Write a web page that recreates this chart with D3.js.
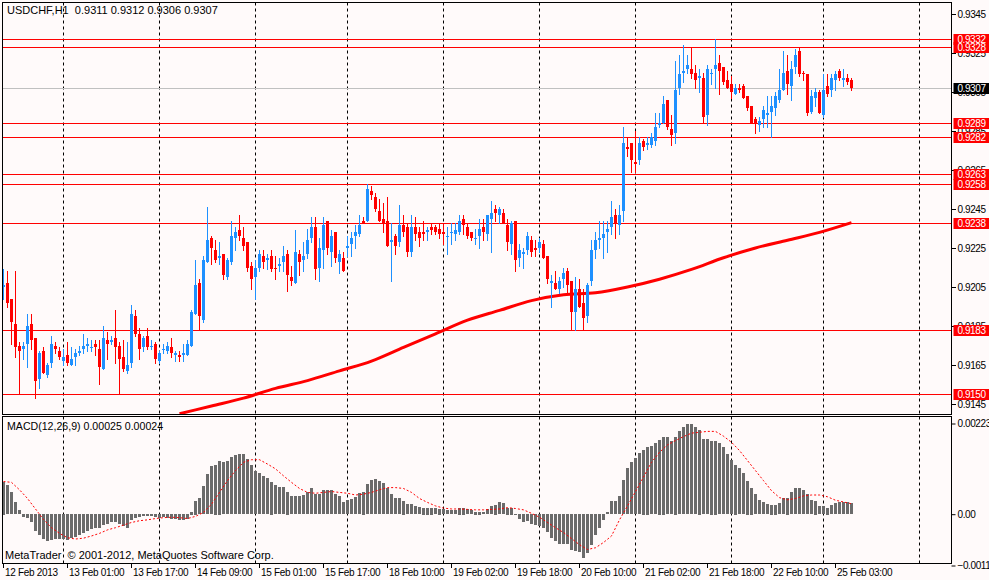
<!DOCTYPE html>
<html>
<head>
<meta charset="utf-8">
<script src="https://cdn.jsdelivr.net/npm/d3@7"></script>
<style>
body { margin: 0; background: #fffafa; }
svg { display: block; font-family: "Liberation Sans", Arial, sans-serif; font-size: 10px; }
</style>
</head>
<body>
<div id="chart"></div>
<script>
// USDCHF H1 bars, 12 Feb 09:00 .. 25 Feb 07:00 (bar index = position on the chart)
const open = [
  .9205,.9207,.9199,.9186,.9175,.9173,.9176,.9186,.9179,.9158, .9172,.9160,.9166,.9175,.9172,.9167,.9170,.9165,.9169,.9171,
  .9173,.9175,.9174,.9176,.9173,.9163,.9178,.9177,.9179,.9175, .9169,.9162,.9166,.9190,.9181,.9174,.9180,.9175,.9176,.9167,
  .9173,.9172,.9174,.9170,.9170,.9170,.9170,.9175,.9191,.9207, .9188,.9218,.9230,.9224,.9220,.9222,.9210,.9218,.9230,.9234,
  .9230,.9228,.9216,.9210,.9215,.9221,.9219,.9221,.9215,.9216, .9218,.9222,.9210,.9207,.9222,.9219,.9222,.9230,.9236,.9215,
  .9224,.9239,.9223,.9233,.9218,.9220,.9225,.9227,.9231,.9232, .9239,.9239,.9254,.9251,.9244,.9240,.9239,.9228,.9231,.9228,
  .9237,.9236,.9223,.9236,.9233,.9233,.9233,.9236,.9236,.9235, .9233,.9231,.9233,.9232,.9233,.9240,.9236,.9233,.9230,.9231,
  .9236,.9232,.9240,.9245,.9242,.9243,.9237,.9227,.9239,.9220, .9222,.9224,.9229,.9225,.9225,.9227,.9221,.9207,.9207,.9204,
  .9209,.9213,.9208,.9192,.9204,.9197,.9190,.9208,.9224,.9229, .9230,.9233,.9236,.9242,.9237,.9244,.9277,.9279,.9269,.9270,
  .9280,.9278,.9278,.9280,.9288,.9289,.9301,.9286,.9284,.9307, .9315,.9317,.9317,.9315,.9312,.9312,.9293,.9314,.9317,.9320,
  .9318,.9311,.9309,.9304,.9307,.9308,.9303,.9298,.9291,.9288, .9291,.9293,.9295,.9297,.9301,.9306,.9316,.9308,.9318,.9326,
  .9315,.9314,.9295,.9302,.9305,.9293,.9308,.9306,.9311,.9316, .9311,.9312,.9311
];
const high = [
  .9214,.9213,.9199,.9213,.9177,.9177,.9191,.9191,.9179,.9172, .9174,.9166,.9180,.9177,.9174,.9173,.9177,.9174,.9173,.9175,
  .9181,.9179,.9178,.9178,.9178,.9185,.9182,.9180,.9193,.9177, .9178,.9177,.9196,.9193,.9184,.9180,.9184,.9178,.9177,.9172,
  .9176,.9177,.9179,.9172,.9172,.9176,.9178,.9193,.9219,.9209, .9221,.9246,.9231,.9229,.9228,.9222,.9220,.9239,.9236,.9242,
  .9236,.9228,.9218,.9219,.9224,.9224,.9222,.9224,.9221,.9220, .9226,.9224,.9216,.9234,.9224,.9228,.9235,.9241,.9241,.9230,
  .9241,.9239,.9234,.9233,.9224,.9223,.9231,.9233,.9237,.9242, .9241,.9258,.9257,.9253,.9250,.9248,.9251,.9238,.9232,.9247,
  .9242,.9238,.9242,.9241,.9236,.9239,.9236,.9238,.9237,.9238, .9238,.9236,.9238,.9238,.9242,.9242,.9238,.9233,.9235,.9240,
  .9240,.9242,.9249,.9247,.9246,.9245,.9240,.9239,.9239,.9227, .9225,.9233,.9231,.9229,.9230,.9229,.9221,.9211,.9213,.9210,
  .9215,.9215,.9208,.9210,.9209,.9204,.9207,.9229,.9233,.9239, .9239,.9239,.9249,.9245,.9247,.9287,.9282,.9279,.9285,.9282,
  .9281,.9282,.9284,.9294,.9294,.9303,.9301,.9293,.9321,.9324, .9329,.9324,.9328,.9319,.9317,.9315,.9319,.9317,.9332,.9324,
  .9318,.9316,.9313,.9309,.9309,.9309,.9303,.9298,.9292,.9292, .9298,.9303,.9303,.9305,.9317,.9326,.9324,.9321,.9327,.9328,
  .9316,.9314,.9306,.9307,.9306,.9314,.9314,.9314,.9316,.9317, .9317,.9314,.9312
];
const low = [
  .9199,.9195,.9176,.9169,.9150,.9168,.9164,.9173,.9148,.9153, .9161,.9159,.9164,.9171,.9168,.9165,.9165,.9165,.9165,.9170,
  .9171,.9172,.9172,.9170,.9155,.9163,.9168,.9176,.9166,.9150, .9162,.9161,.9164,.9180,.9168,.9172,.9173,.9173,.9166,.9166,
  .9171,.9171,.9169,.9167,.9167,.9167,.9170,.9175,.9191,.9183, .9187,.9218,.9217,.9218,.9217,.9209,.9209,.9217,.9224,.9229,
  .9224,.9213,.9204,.9199,.9213,.9215,.9214,.9213,.9209,.9213, .9213,.9203,.9206,.9207,.9211,.9213,.9220,.9228,.9209,.9208,
  .9215,.9222,.9216,.9218,.9212,.9213,.9221,.9221,.9225,.9231, .9238,.9239,.9250,.9244,.9239,.9233,.9226,.9208,.9222,.9226,
  .9231,.9221,.9221,.9229,.9226,.9229,.9229,.9232,.9232,.9230, .9227,.9222,.9227,.9229,.9232,.9232,.9230,.9229,.9227,.9225,
  .9229,.9229,.9223,.9239,.9238,.9238,.9224,.9222,.9213,.9216, .9215,.9222,.9221,.9221,.9223,.9220,.9207,.9195,.9204,.9202,
  .9205,.9202,.9183,.9183,.9195,.9183,.9187,.9206,.9220,.9225, .9220,.9223,.9232,.9230,.9232,.9239,.9272,.9264,.9264,.9268,
  .9275,.9276,.9277,.9278,.9287,.9289,.9286,.9278,.9279,.9304, .9310,.9315,.9312,.9307,.9305,.9289,.9288,.9309,.9307,.9304,
  .9309,.9307,.9302,.9304,.9305,.9302,.9296,.9289,.9284,.9285, .9287,.9287,.9282,.9293,.9300,.9306,.9304,.9301,.9315,.9313,
  .9311,.9293,.9294,.9298,.9294,.9292,.9303,.9303,.9306,.9311, .9308,.9309,.9306
];
const close = [
  .9206,.9197,.9187,.9174,.9172,.9175,.9185,.9178,.9157,.9171, .9161,.9165,.9176,.9173,.9169,.9169,.9166,.9168,.9171,.9172,
  .9175,.9176,.9174,.9174,.9164,.9179,.9176,.9178,.9174,.9168, .9163,.9165,.9191,.9181,.9173,.9179,.9174,.9175,.9168,.9171,
  .9173,.9175,.9171,.9171,.9169,.9171,.9176,.9192,.9206,.9190, .9219,.9229,.9225,.9219,.9221,.9211,.9219,.9231,.9233,.9231,
  .9226,.9215,.9209,.9215,.9222,.9218,.9220,.9214,.9214,.9217, .9221,.9211,.9208,.9223,.9218,.9221,.9229,.9236,.9214,.9225,
  .9237,.9225,.9231,.9220,.9222,.9213,.9226,.9230,.9233,.9237, .9238,.9255,.9252,.9245,.9239,.9238,.9226,.9229,.9226,.9237,
  .9233,.9223,.9236,.9232,.9230,.9232,.9234,.9234,.9233,.9232, .9232,.9231,.9233,.9234,.9239,.9237,.9231,.9230,.9230,.9235,
  .9233,.9242,.9243,.9243,.9245,.9238,.9228,.9238,.9219,.9224, .9223,.9231,.9223,.9224,.9228,.9220,.9209,.9208,.9204,.9208,
  .9212,.9206,.9192,.9204,.9195,.9189,.9206,.9224,.9229,.9230, .9232,.9235,.9241,.9238,.9242,.9279,.9276,.9270,.9268,.9279,
  .9277,.9279,.9282,.9287,.9289,.9299,.9287,.9283,.9306,.9314, .9316,.9319,.9314,.9311,.9313,.9292,.9317,.9315,.9319,.9316,
  .9310,.9307,.9305,.9307,.9306,.9302,.9297,.9289,.9289,.9290, .9296,.9294,.9298,.9303,.9306,.9315,.9309,.9317,.9324,.9314,
  .9314,.9294,.9303,.9305,.9294,.9306,.9304,.9312,.9314,.9312, .9312,.9310,.9307
];

// moving average (red thick line), read every 8 bars
const maBars   = [44, 52, 60, 68, 76, 84, 92, 100, 108, 116, 124, 132, 140, 148, 156, 164, 172, 180, 188, 196, 204, 212];
const maValues = [.9140,.9144,.9148,.9153,.9157,.9162,.9167,.9174,.9181,.9188,.9193,.9198,.9201,.9202,.9205,.9209,.9214,.9220,.9225,.9229,.9233,.9238];

// MACD(12,26,9) histogram, in units of 0.00001
const macdHist = [
  75,67,50,27,9,-8,-10,-18,-40,-48, -58,-62,-59,-58,-58,-58,-60,-56,-52,-48,
  -44,-38,-35,-32,-31,-25,-22,-19,-18,-22, -28,-31,-13,-10,-8,-5,-5,-4,-8,-10,
  -8,-10,-12,-12,-13,-14,-12,6,31,36, 64,92,111,114,123,119,121,131,136,138,
  137,127,113,98,95,88,83,75,67,62, 62,52,41,42,41,44,50,59,46,46,
  56,55,55,46,41,28,32,35,39,48, 52,69,78,81,76,71,59,46,36,36,
  31,23,23,19,16,15,15,15,14,13, 12,9,9,10,15,15,11,9,6,6,
  5,11,18,22,27,25,15,15,-3,-12, -18,-16,-22,-25,-27,-31,-42,-54,-63,-68,
  -68,-69,-83,-85,-88,-100,-90,-70,-48,-31, -14,5,30,30,41,79,105,119,128,141,
  148,155,156,163,171,178,177,168,178,190, 200,206,206,200,194,173,173,169,169,163,
  154,138,125,114,105,94,77,61,46,33, 27,23,22,22,25,36,38,50,59,59,
  56,46,33,31,18,18,15,21,25,27, 28,27,25
];
// signal line (red dots), read every 2 bars, units of 0.00001
const signalBars = d3.range(0, 213, 2);
const signal = [
  75,73,56,36,12,-12,-31,-44,-54,-57, -55,-50,-44,-36,-31,-25,-19,-15,-13,-10,
  -8,-7,-8,-10,-5,4,23,50,77,100, 119,125,125,115,104,88,73,59,50,48,
  50,52,50,48,44,46,50,56,61,61, 59,50,36,27,19,14,12,12,11,10,
  10,11,12,15,13,10,2,-7,-19,-31, -42,-56,-70,-81,-77,-65,-50,-13,19,52,
  85,119,142,159,169,178,186,188,190,190, 179,165,146,123,100,77,54,38,33,36,
  42,44,44,40,32,28,24
];

const timeBars   = [0, 16, 32, 48, 64, 80, 96, 112, 128, 144, 160, 176, 192, 208];
const timeLabels = ['12 Feb 2013', '13 Feb 01:00', '13 Feb 17:00', '14 Feb 09:00', '15 Feb 01:00', '15 Feb 17:00',
  '18 Feb 10:00', '19 Feb 02:00', '19 Feb 18:00', '20 Feb 10:00', '21 Feb 02:00', '21 Feb 18:00', '22 Feb 10:00', '25 Feb 03:00'];
const dayStartBars = [15, 39, 63, 86, 110, 134, 158, 182, 205, 229];

const priceTicks = [0.9345, 0.9325, 0.9305, 0.9285, 0.9265, 0.9245, 0.9225, 0.9205, 0.9185, 0.9165, 0.9145];
const levels = [0.9332, 0.9328, 0.9289, 0.9282, 0.9263, 0.9258, 0.9238, 0.9183, 0.9150];
const bid = 0.9307;
const macdTicks = [223, 0, -112];

const width = 989, height = 580;
const frame = {left: 2.5, right: 951.5, top: 2.5, mainBottom: 414.5, subTop: 416.5, bottom: 563.5};
const bullColor = '#1e90ff', bearColor = '#ff0000';
const axisFont = '"Liberation Sans", Arial, sans-serif';

const svg = d3.select('#chart').append('svg')
  .attr('width', width)
  .attr('height', height)
  .style('background', '#fffafa');

const x = d3.scaleLinear().domain([0, 1]).range([3.5, 7.5]);   // 4 px per bar
const y = d3.scaleLinear().domain([0.9145, 0.9345]).range([404, 14]);
const yM = d3.scaleLinear().domain([-112, 223]).range([563, 417]);

svg.append('clipPath').attr('id', 'main-clip')
  .append('rect')
  .attr('x', frame.left).attr('y', frame.top)
  .attr('width', frame.right - frame.left).attr('height', frame.mainBottom - frame.top);
svg.append('clipPath').attr('id', 'sub-clip')
  .append('rect')
  .attr('x', frame.left).attr('y', frame.subTop)
  .attr('width', frame.right - frame.left).attr('height', frame.bottom - frame.subTop);

// day separators
svg.append('g')
  .selectAll('line')
  .data(dayStartBars)
  .join('line')
  .attr('x1', d => Math.floor(x(d)) + 0.5)
  .attr('x2', d => Math.floor(x(d)) + 0.5)
  .attr('y1', frame.top)
  .attr('y2', frame.bottom)
  .attr('stroke', '#000')
  .attr('stroke-dasharray', '3,3');

const main = svg.append('g').attr('clip-path', 'url(#main-clip)').attr('shape-rendering', 'crispEdges');

main.selectAll('.level')
  .data(levels)
  .join('line')
  .attr('class', 'level')
  .attr('x1', frame.left).attr('x2', frame.right)
  .attr('y1', d => Math.round(y(d)) + 0.5)
  .attr('y2', d => Math.round(y(d)) + 0.5)
  .attr('stroke', '#ff0000');

main.append('line')
  .attr('x1', frame.left).attr('x2', frame.right)
  .attr('y1', Math.round(y(bid)) + 0.5)
  .attr('y2', Math.round(y(bid)) + 0.5)
  .attr('stroke', '#c0c0c0');

main.append('path')
  .datum(maBars)
  .attr('fill', 'none')
  .attr('stroke', '#ff0000')
  .attr('stroke-width', 3)
  .attr('shape-rendering', 'auto')
  .attr('d', d3.line().curve(d3.curveMonotoneX).x(d => x(d)).y((d, i) => y(maValues[i])));

const bars = d3.range(open.length);
const candle = main.selectAll('.candle')
  .data(bars)
  .join('g')
  .attr('class', 'candle')
  .attr('fill', i => close[i] >= open[i] ? bullColor : bearColor)
  .attr('stroke', i => close[i] >= open[i] ? bullColor : bearColor);

candle.append('line')
  .attr('x1', i => x(i)).attr('x2', i => x(i))
  .attr('y1', i => Math.round(y(high[i])))
  .attr('y2', i => Math.round(y(low[i])) + 1);

candle.append('rect')
  .attr('stroke', 'none')
  .attr('x', i => x(i) - 1.5)
  .attr('width', 3)
  .attr('y', i => Math.round(y(Math.max(open[i], close[i]))))
  .attr('height', i => Math.max(1, Math.round(y(Math.min(open[i], close[i]))) - Math.round(y(Math.max(open[i], close[i])))));

// MACD panel
const sub = svg.append('g').attr('clip-path', 'url(#sub-clip)').attr('shape-rendering', 'crispEdges');

sub.selectAll('.hist')
  .data(bars)
  .join('rect')
  .attr('class', 'hist')
  .attr('fill', '#6b6b6b')
  .attr('x', i => x(i) - 1.5)
  .attr('width', 3)
  .attr('y', i => Math.round(yM(Math.max(0, macdHist[i]))))
  .attr('height', i => Math.max(1, Math.round(Math.abs(yM(macdHist[i]) - yM(0)))));

sub.append('path')
  .datum(signalBars)
  .attr('fill', 'none')
  .attr('stroke', '#ff0000')
  .attr('stroke-dasharray', '2,2')
  .attr('shape-rendering', 'auto')
  .attr('d', d3.line().x(d => x(d)).y((d, i) => yM(signal[i])));

// panel frames
svg.append('rect')
  .attr('x', frame.left).attr('y', frame.top)
  .attr('width', frame.right - frame.left).attr('height', frame.mainBottom - frame.top)
  .attr('fill', 'none').attr('stroke', '#000').attr('shape-rendering', 'crispEdges');
svg.append('rect')
  .attr('x', frame.left).attr('y', frame.subTop)
  .attr('width', frame.right - frame.left).attr('height', frame.bottom - frame.subTop)
  .attr('fill', 'none').attr('stroke', '#000').attr('shape-rendering', 'crispEdges');

// price axis
const priceAxis = svg.append('g')
  .attr('transform', `translate(${frame.right},0)`)
  .call(d3.axisRight(y).tickValues(priceTicks).tickSize(4).tickPadding(2).tickFormat(d3.format('.4f')));
priceAxis.select('.domain').remove();
priceAxis.selectAll('text').attr('font-size', 10).attr('font-family', axisFont).attr('letter-spacing', -0.4).attr('fill', '#000');
priceAxis.selectAll('line').attr('shape-rendering', 'crispEdges');

// labels of the horizontal lines
const tags = svg.append('g');
const tagData = levels.map(v => ({v, fill: '#ff0000'})).concat([{v: bid, fill: '#000000'}]);
tags.selectAll('rect')
  .data(tagData)
  .join('rect')
  .attr('x', frame.right + 2)
  .attr('y', d => Math.round(y(d.v)) - 5)
  .attr('width', 36)
  .attr('height', 11)
  .attr('fill', d => d.fill);
tags.selectAll('text')
  .data(tagData)
  .join('text')
  .attr('x', frame.right + 20)
  .attr('y', d => Math.round(y(d.v)) + 4)
  .attr('text-anchor', 'middle')
  .attr('letter-spacing', -0.4)
  .attr('fill', '#fff')
  .text(d => d3.format('.4f')(d.v));

// MACD axis
const macdAxis = svg.append('g')
  .attr('transform', `translate(${frame.right},0)`)
  .call(d3.axisRight(yM).tickValues(macdTicks).tickSize(4).tickPadding(2)
    .tickFormat(d => d === 0 ? '0.00' : d3.format('.5f')(d / 100000)));
macdAxis.select('.domain').remove();
macdAxis.selectAll('text').attr('font-size', 10).attr('font-family', axisFont).attr('letter-spacing', -0.4).attr('fill', '#000');
macdAxis.selectAll('.tick').filter(d => d === 223).attr('transform', `translate(0,${yM(223) + 7})`);
macdAxis.selectAll('.tick').filter(d => d === -112).attr('transform', `translate(0,${yM(-112) + 3})`);

// time axis
const timeAxis = svg.append('g')
  .attr('transform', `translate(-1,${frame.bottom})`)
  .call(d3.axisBottom(x).tickValues(timeBars).tickSize(4).tickPadding(1).tickFormat((d, i) => timeLabels[i]));
timeAxis.select('.domain').remove();
timeAxis.selectAll('text')
  .attr('text-anchor', 'start')
  .attr('x', 2)
  .attr('font-size', 10)
  .attr('font-family', axisFont)
  .attr('letter-spacing', -0.3)
  .attr('fill', '#000');
timeAxis.selectAll('line').attr('shape-rendering', 'crispEdges');

// captions
svg.append('text')
  .attr('x', 7).attr('y', 14)
  .attr('font-size', 11)
  .style('white-space', 'pre')
  .text('USDCHF,H1  0.9311 0.9312 0.9306 0.9307');
svg.append('text')
  .attr('x', 7).attr('y', 430)
  .attr('font-size', 10.6)
  .text(`MACD(12,26,9) ${d3.format('.5f')(macdHist[macdHist.length - 1] / 100000)} ${d3.format('.5f')(signal[signal.length - 1] / 100000)}`);
svg.append('text')
  .attr('x', 5).attr('y', 559)
  .attr('font-size', 11)
  .style('white-space', 'pre')
  .text('MetaTrader  © 2001-2012, MetaQuotes Software Corp.');
</script>
</body>
</html>
